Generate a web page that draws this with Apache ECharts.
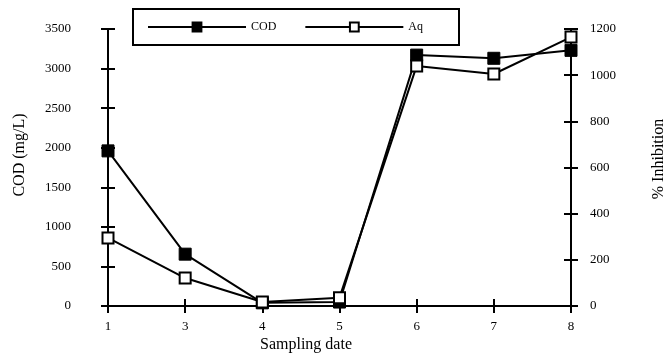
<!DOCTYPE html>
<html><head><meta charset="utf-8">
<script src="https://cdn.jsdelivr.net/npm/echarts@6/dist/echarts.min.js"></script>
<style>html,body{margin:0;padding:0;background:#fff}#c{width:671px;height:364px}</style>
</head><body><div id="c"></div>
<script>
var categories = ['1','3','4','5','6','7','8'];
var codValues = [1960, 655, 40, 50, 3170, 3130, 3230];
var aqValues = [295, 121, 17, 36, 1040, 1005, 1165];
var leftTitle = 'COD (mg/L)';
var rightTitle = '% Inhibition';
var xTitle = 'Sampling date';

var font = 'Liberation Serif';
var chart = echarts.init(document.getElementById('c'));
var axLine = {show:true, lineStyle:{color:'#000', width:2}};
var tick = function(inside){return {show:true, inside:inside, length:7, lineStyle:{color:'#000', width:2}};};
var plain = function(v){return String(v);};
var lbl = {color:'#000', fontFamily:font, fontSize:13, formatter:plain};
var titleStyle = {fill:'#000', fontFamily:font, fontSize:16, align:'center', verticalAlign:'middle'};
chart.setOption({
  animation:false,
  grid:{left:108, right:100, top:29, bottom:58, outerBoundsMode:'none', containLabel:false},
  legend:{
    left:133, top:9,
    padding:[12, 36, 12, 14],
    borderColor:'#000', borderWidth:2,
    itemWidth:98, itemHeight:11, itemGap:28,
    textStyle:{color:'#000', fontFamily:font, fontSize:12},
    data:['COD','Aq']
  },
  graphic:[
    {type:'text', x:20, y:155, rotation:Math.PI/2, style:Object.assign({text:leftTitle}, titleStyle)},
    {type:'text', x:659, y:159, rotation:Math.PI/2, style:Object.assign({text:rightTitle}, titleStyle)},
    {type:'text', x:306, y:345, style:Object.assign({text:xTitle}, titleStyle)}
  ],
  xAxis:[{
    type:'category', data:categories, boundaryGap:false,
    axisLine:axLine, axisTick:tick(false), axisLabel:Object.assign({}, lbl, {margin:14}),
    splitLine:{show:false}
  },{
    type:'category', data:categories, boundaryGap:false, position:'bottom',
    axisLine:{show:false}, axisTick:tick(true), axisLabel:{show:false}, splitLine:{show:false}
  }],
  yAxis:[{
    type:'value', min:0, max:3500, interval:500, position:'left',
    axisLine:axLine, axisTick:tick(false), axisLabel:Object.assign({}, lbl, {margin:37}),
    splitLine:{show:false}
  },{
    type:'value', min:0, max:1200, interval:200, position:'right',
    axisLine:axLine, axisTick:tick(false), axisLabel:Object.assign({}, lbl, {margin:19}),
    splitLine:{show:false}
  },{
    type:'value', min:0, max:3500, interval:500, position:'left',
    axisLine:{show:false}, axisTick:tick(true), axisLabel:{show:false}, splitLine:{show:false}
  },{
    type:'value', min:0, max:1200, interval:200, position:'right',
    axisLine:{show:false}, axisTick:tick(true), axisLabel:{show:false}, splitLine:{show:false}
  }],
  series:[{
    name:'COD', type:'line', yAxisIndex:0, data:codValues,
    symbol:'rect', symbolSize:12, showAllSymbol:true,
    lineStyle:{color:'#000', width:2},
    itemStyle:{color:'#000', borderColor:'#000', borderWidth:1}
  },{
    name:'Aq', type:'line', yAxisIndex:1, data:aqValues,
    symbol:'rect', symbolSize:11, showAllSymbol:true,
    lineStyle:{color:'#000', width:2},
    itemStyle:{color:'#fff', borderColor:'#000', borderWidth:2}
  }]
});
</script></body></html>
